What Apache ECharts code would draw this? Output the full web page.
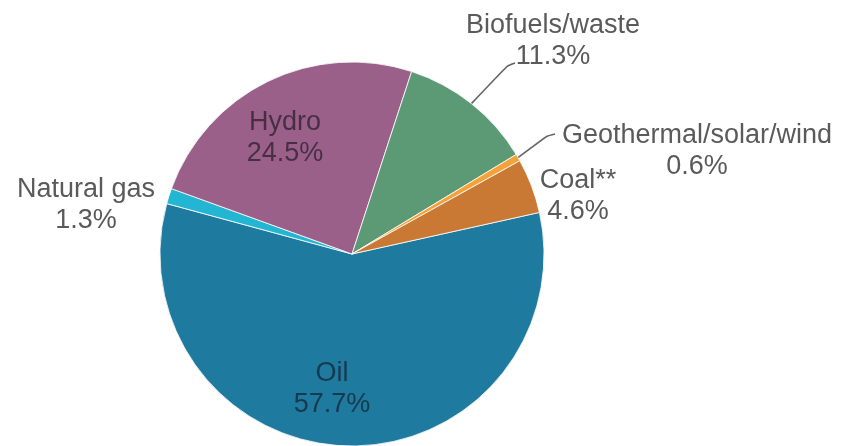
<!DOCTYPE html>
<html>
<head>
<meta charset="utf-8">
<script src="https://cdn.jsdelivr.net/npm/echarts@6/dist/echarts.min.js"></script>
<style>
  html, body { margin: 0; padding: 0; background: #fff; }
  #chart { width: 846px; height: 446px; }
</style>
</head>
<body>
<div id="chart"></div>
<script>
// Energy mix shares, in percent, listed clockwise from the Oil/Coal boundary
const sources = ['Oil', 'Natural gas', 'Hydro', 'Biofuels/waste', 'Geothermal/solar/wind', 'Coal**'];
const shares = [57.7, 1.3, 24.5, 11.3, 0.6, 4.6];
const colors = ['#1f7a9f', '#22b6d3', '#9b6089', '#5c9a75', '#f6a23a', '#c97934'];

// Label block centres and leader-line routes (layout only)
const labelSpots = [
  { x: 332, y: 389 },
  { x: 86, y: 205 },
  { x: 285, y: 138 },
  { x: 553, y: 41 },
  { x: 697, y: 151 },
  { x: 578, y: 196 }
];
const leaderRoutes = {
  3: [[507, 66], [515, 63]],
  4: [[547, 136], [555, 134]]
};
const insideLabels = [0, 2];

const chart = echarts.init(document.getElementById('chart'), null, { renderer: 'canvas' });

const pieData = sources.map((name, i) => {
  const inside = insideLabels.includes(i);
  return {
    name: name,
    value: shares[i],
    itemStyle: { color: colors[i] },
    label: {
      position: inside ? 'inside' : 'outside',
      color: inside ? 'rgba(18,18,28,0.62)' : '#5a5a5a'
    },
    labelLine: { show: leaderRoutes[i] !== undefined }
  };
});

chart.setOption({
  backgroundColor: '#ffffff',
  animation: false,
  series: [{
    type: 'pie',
    center: [352, 254],
    radius: 192,
    startAngle: 12.5,
    clockwise: true,
    avoidLabelOverlap: false,
    data: pieData,
    itemStyle: { borderColor: '#ffffff', borderWidth: 0.8 },
    label: {
      show: true,
      formatter: p => p.name + '\n' + p.value.toFixed(1) + '%',
      fontFamily: 'Liberation Sans, Arial, sans-serif',
      fontSize: 27,
      lineHeight: 31,
      align: 'center'
    },
    labelLine: {
      lineStyle: { color: '#666666', width: 1.6 },
      smooth: 0.2
    },
    labelLayout: function (params) {
      const spot = labelSpots[params.dataIndex];
      const out = { x: spot.x, y: spot.y, align: 'center', verticalAlign: 'middle' };
      const route = leaderRoutes[params.dataIndex];
      if (route && params.labelLinePoints) {
        out.labelLinePoints = [params.labelLinePoints[0]].concat(route);
      }
      return out;
    },
    emphasis: { disabled: true }
  }]
});
</script>
</body>
</html>
